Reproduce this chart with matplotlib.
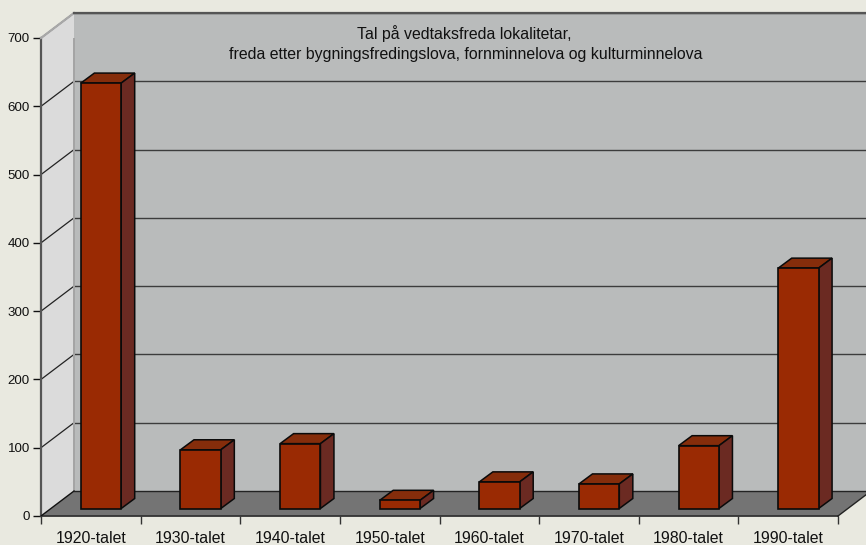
import matplotlib
matplotlib.use('Agg')
import matplotlib.pyplot as plt
from matplotlib.patches import Polygon

decades = ['1920-talet', '1930-talet', '1940-talet', '1950-talet',
           '1960-talet', '1970-talet', '1980-talet', '1990-talet']
counts = [623, 86, 95, 12, 39, 36, 92, 352]
y_ticks = [0, 100, 200, 300, 400, 500, 600, 700]
title_lines = ['Tal på vedtaksfreda lokalitetar,',
               'freda etter bygningsfredingslova, fornminnelova og kulturminnelova']

plt.rcParams['font.family'] = ['Liberation Sans', 'DejaVu Sans']

BG = '#E9E9E0'
W, H = 866, 545
fig = plt.figure(figsize=(W / 100, H / 100), dpi=100, facecolor=BG)
# axes covers the front plane of the 3d box
ax = fig.add_axes([41 / W, 1 - 516 / H, (838 - 41) / W, (516 - 38) / H])
ax.set_xlim(0, 8)
ax.set_ylim(0, 700)
ax.patch.set_visible(False)

# depth of the box and of the bars, in data units
depth_x = 33 / 99.6
depth_y = 25 / 0.683
bar_dx = 13.5 / 99.6
bar_dy = 10 / 0.683
bar_base = 7.5 / 0.683
bar_width = 0.405
bar_offset = 0.40


def add_poly(pts, fc, ec='none', lw=0, z=1):
    ax.add_patch(Polygon(pts, closed=True, facecolor=fc, edgecolor=ec,
                         linewidth=lw, zorder=z, clip_on=False))


# walls and floor
add_poly([(depth_x, depth_y), (8 + depth_x, depth_y),
          (8 + depth_x, 700 + depth_y), (depth_x, 700 + depth_y)], '#B9BBBB')
add_poly([(0, 0), (depth_x, depth_y), (depth_x, 700 + depth_y), (0, 700)], '#DBDBDB')
add_poly([(0, 0), (8, 0), (8 + depth_x, depth_y), (depth_x, depth_y)], '#747474')

# gridlines over back and side wall
for v in y_ticks[1:]:
    ax.plot([0, depth_x], [v, v + depth_y], color='#222222', lw=0.9, zorder=2, clip_on=False)
    ax.plot([depth_x, 8 + depth_x], [v + depth_y, v + depth_y], color='#3C3C3C',
            lw=1.0, zorder=2, clip_on=False)
ax.plot([0, depth_x], [700, 700 + depth_y], color='#A8A8A8', lw=1.6, zorder=3, clip_on=False)
ax.plot([depth_x, 8 + depth_x], [700 + depth_y, 700 + depth_y], color='#555555',
        lw=1.6, zorder=3, clip_on=False)
ax.plot([depth_x, depth_x], [depth_y, 700 + depth_y], color='#A4A4A4', lw=1.4, zorder=2)
ax.plot([0, depth_x], [0, depth_y], color='#111111', lw=1.0, zorder=3)
ax.plot([depth_x, 8 + depth_x], [depth_y, depth_y], color='#222222', lw=1.0, zorder=3, clip_on=False)
ax.plot([8, 8 + depth_x], [0, depth_y], color='#222222', lw=1.0, zorder=3, clip_on=False)

# bars
positions = [i + bar_offset + bar_width / 2 for i in range(len(counts))]
ax.bar(positions, counts, width=bar_width, bottom=bar_base, color='#9A2A03',
       edgecolor='#0A0A0A', linewidth=1.2, zorder=5, clip_on=False)
for x, v in zip(positions, counts):
    x0 = x - bar_width / 2
    x1 = x + bar_width / 2
    top = bar_base + v
    add_poly([(x0, top), (x1, top), (x1 + bar_dx, top + bar_dy), (x0 + bar_dx, top + bar_dy)],
             '#852D0B', '#0A0A0A', 1.1, 4)
    add_poly([(x1, bar_base), (x1 + bar_dx, bar_base + bar_dy),
              (x1 + bar_dx, top + bar_dy), (x1, top)],
             '#6B2A22', '#0A0A0A', 1.1, 4)

# axes
for side in ['top', 'right']:
    ax.spines[side].set_visible(False)
ax.spines['left'].set_color('#555555')
ax.spines['left'].set_linewidth(1.6)
ax.spines['bottom'].set_color('#333333')
ax.spines['bottom'].set_linewidth(1.3)
ax.set_yticks(y_ticks)
ax.set_xticks(range(len(decades) + 1))
ax.set_xticklabels([])
ax.set_xticks([i + 0.5 for i in range(len(decades))], minor=True)
ax.set_xticklabels(decades, minor=True)
ax.tick_params(axis='x', which='major', length=6, width=1, color='#333333')
ax.tick_params(axis='x', which='minor', length=0, pad=10.5, labelsize=11.4, labelcolor='#111111')
ax.tick_params(axis='y', length=6, width=1, color='#111111', pad=2, labelsize=9.6, labelcolor='#111111')

fig.text(464 / W, 1 - 33.5 / H, title_lines[0], ha='center', va='center', fontsize=11.4, color='#111111')
fig.text(466 / W, 1 - 54.5 / H, title_lines[1], ha='center', va='center', fontsize=11.4, color='#111111')

fig.savefig('out.png', dpi=100, facecolor=BG)
